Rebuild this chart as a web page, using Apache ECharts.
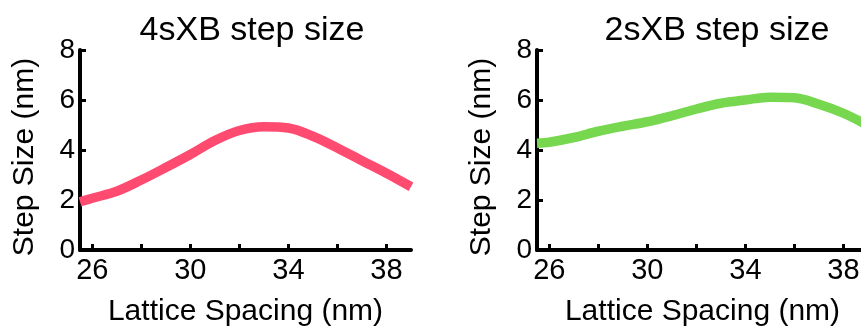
<!DOCTYPE html>
<html>
<head>
<meta charset="utf-8">
<script src="https://cdn.jsdelivr.net/npm/echarts@6/dist/echarts.min.js"></script>
<style>
html,body{margin:0;padding:0;background:#fff;}
#c{width:861px;height:326px;}
</style>
</head>
<body>
<div id="c"></div>
<script>
// Data
const titles = ['4sXB step size', '2sXB step size'];
const xName = 'Lattice Spacing (nm)';
const yName = 'Step Size (nm)';
const xTickValues = [26, 28, 30, 32, 34, 36, 38];
const xLabelValues = [26, 30, 34, 38];
const lattice4 = [25.5, 26, 27, 28, 29, 30, 31, 32, 33, 34, 35, 36, 37, 38, 39];
const step4 =    [1.93, 2.07, 2.35, 2.8, 3.3, 3.82, 4.38, 4.78, 4.93, 4.88, 4.55, 4.08, 3.57, 3.07, 2.53];
const lattice2 = [25.5, 26, 27, 28, 29, 30, 31, 32, 33, 34, 35, 36, 37, 38, 39];
const step2 =    [4.27, 4.31, 4.5, 4.75, 4.95, 5.13, 5.37, 5.64, 5.87, 6.0, 6.11, 6.09, 5.83, 5.47, 4.98];

const FONT = 'Liberation Sans';
const chart = echarts.init(document.getElementById('c'), null, {renderer: 'canvas'});

function xAxis(gi) {
  return {
    type: 'value', gridIndex: gi, min: 25.5, max: 39,
    name: xName, nameLocation: 'middle', nameGap: 47,
    nameTextStyle: {fontFamily: FONT, fontSize: 30, color: '#000'},
    axisLine: {show: true, onZero: false, lineStyle: {color: '#000', width: 4}},
    axisTick: {show: true, inside: true, length: 6, customValues: xTickValues, lineStyle: {color: '#000', width: 3}},
    axisLabel: {show: true, customValues: xLabelValues, margin: 6, fontFamily: FONT, fontSize: 29, color: '#000'},
    splitLine: {show: false}
  };
}
function yAxis(gi) {
  return {
    type: 'value', gridIndex: gi, min: 0, max: 8, interval: 2,
    name: yName, nameLocation: 'middle', nameGap: 40,
    nameTextStyle: {fontFamily: FONT, fontSize: 30, color: '#000', padding: [0, 14, 0, 0]},
    axisLine: {show: true, lineStyle: {color: '#000', width: 4}},
    axisTick: {show: true, inside: true, length: 6, lineStyle: {color: '#000', width: 3}},
    axisLabel: {show: true, margin: 5, fontFamily: FONT, fontSize: 28, color: '#000'},
    splitLine: {show: false}
  };
}

chart.setOption({
  animation: false,
  title: [
    {text: titles[0], left: 247, top: 9, textAlign: 'center', textStyle: {fontFamily: FONT, fontSize: 34, fontWeight: 'normal', color: '#000'}},
    {text: titles[1], left: 712, top: 9, textAlign: 'center', textStyle: {fontFamily: FONT, fontSize: 34, fontWeight: 'normal', color: '#000'}}
  ],
  grid: [
    {left: 80, top: 50, width: 331, height: 200, outerBoundsMode: 'none', containLabel: false},
    {left: 537, top: 50, width: 331, height: 200, outerBoundsMode: 'none', containLabel: false}
  ],
  xAxis: [xAxis(0), xAxis(1)],
  yAxis: [yAxis(0), yAxis(1)],
  series: [
    {type: 'line', xAxisIndex: 0, yAxisIndex: 0, smooth: 0.35, showSymbol: false,
     data: lattice4.map((x, i) => [x, step4[i]]),
     lineStyle: {color: '#ff4b70', width: 9.5}, clip: true},
    {type: 'line', xAxisIndex: 1, yAxisIndex: 1, smooth: 0.35, showSymbol: false,
     data: lattice2.map((x, i) => [x, step2[i]]),
     lineStyle: {color: '#77d850', width: 9.5}, clip: true}
  ]
});
</script>
</body>
</html>
